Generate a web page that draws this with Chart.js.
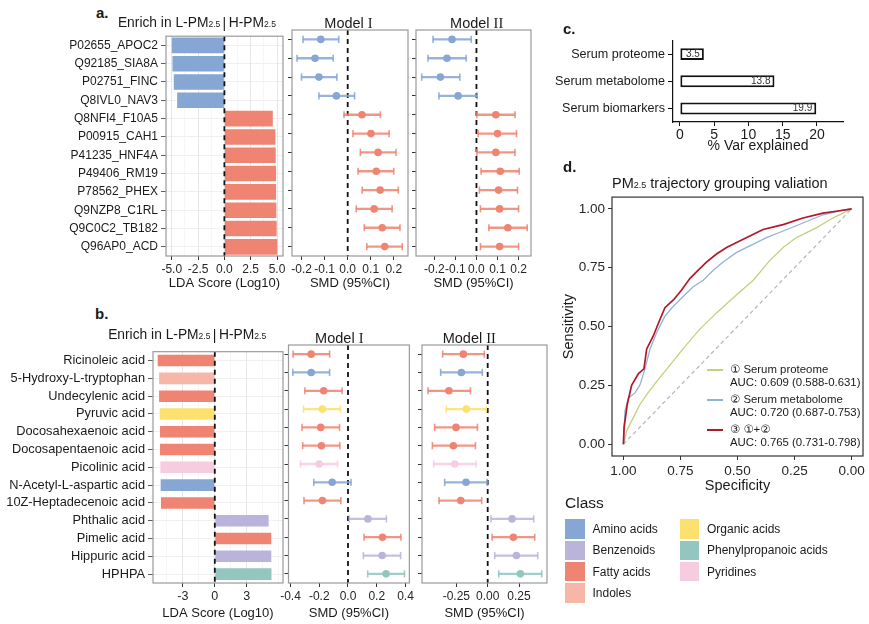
<!DOCTYPE html>
<html>
<head>
<meta charset="utf-8">
<script src="https://cdn.jsdelivr.net/npm/chart.js@4.4.1/dist/chart.umd.min.js"></script>
<style>
  html, body { margin: 0; padding: 0; background: #fff; }
  body { position: relative; width: 869px; height: 624px; overflow: hidden;
         font-family: "Liberation Sans", Arial, "DejaVu Sans", "Noto Sans CJK SC", sans-serif; color: #1a1a1a; }
  canvas { position: absolute; }
  .t { position: absolute; white-space: nowrap; line-height: 1; }
  .s { font-size: 62%; }
  .r { font-family: "Liberation Serif", "Times New Roman", serif; }
</style>
</head>
<body>
<script>
const FONT = '"Liberation Sans", Arial, sans-serif';

// ---------- panel a: proteins ----------
const proteins = ['P02655_APOC2', 'Q92185_SIA8A', 'P02751_FINC', 'Q8IVL0_NAV3', 'Q8NFI4_F10A5', 'P00915_CAH1',
  'P41235_HNF4A', 'P49406_RM19', 'P78562_PHEX', 'Q9NZP8_C1RL', 'Q9C0C2_TB182', 'Q96AP0_ACD'];
const proteinLDA = [-5.0, -4.94, -4.81, -4.49, 4.6, 4.85, 4.88, 4.91, 4.91, 4.94, 4.97, 5.03];
const protM1 = [-0.117, -0.142, -0.125, -0.049, 0.062, 0.101, 0.132, 0.124, 0.141, 0.115, 0.150, 0.161];
const protM1Lo = [-0.194, -0.220, -0.201, -0.125, -0.016, 0.023, 0.055, 0.045, 0.063, 0.037, 0.072, 0.083];
const protM1Hi = [-0.039, -0.063, -0.047, 0.030, 0.142, 0.180, 0.210, 0.200, 0.220, 0.193, 0.227, 0.237];
const protM2 = [-0.116, -0.140, -0.171, -0.087, 0.092, 0.100, 0.092, 0.113, 0.105, 0.110, 0.149, 0.110];
const protM2Lo = [-0.206, -0.230, -0.260, -0.178, 0.002, 0.008, 0.002, 0.022, 0.014, 0.019, 0.059, 0.019];
const protM2Hi = [-0.025, -0.049, -0.079, 0.003, 0.183, 0.190, 0.183, 0.203, 0.195, 0.200, 0.241, 0.200];

// ---------- panel b: metabolites ----------
const metabolites = ['Ricinoleic acid', '5-Hydroxy-L-tryptophan', 'Undecylenic acid', 'Pyruvic acid',
  'Docosahexaenoic acid', 'Docosapentaenoic acid', 'Picolinic acid', 'N-Acetyl-L-aspartic acid',
  '10Z-Heptadecenoic acid', 'Phthalic acid', 'Pimelic acid', 'Hippuric acid', 'HPHPA'];
const metabClass = [2, 3, 2, 4, 2, 2, 6, 0, 2, 1, 2, 1, 5];
const metabForestClass = [2, 0, 2, 4, 2, 2, 6, 0, 2, 1, 2, 1, 5];
const metabLDA = [-5.36, -5.23, -5.23, -5.17, -5.14, -5.14, -5.11, -5.08, -5.05, 5.05, 5.3, 5.3, 5.32];
const metabM1 = [-0.256, -0.256, -0.169, -0.178, -0.190, -0.185, -0.201, -0.110, -0.178, 0.139, 0.240, 0.238, 0.265];
const metabM1Lo = [-0.382, -0.384, -0.300, -0.309, -0.320, -0.315, -0.330, -0.238, -0.306, 0.009, 0.112, 0.107, 0.137];
const metabM1Hi = [-0.128, -0.128, -0.041, -0.053, -0.059, -0.057, -0.073, 0.021, -0.050, 0.267, 0.368, 0.366, 0.393];
const metabM2 = [-0.194, -0.210, -0.309, -0.170, -0.253, -0.274, -0.263, -0.173, -0.215, 0.194, 0.205, 0.229, 0.261];
const metabM2Lo = [-0.359, -0.375, -0.476, -0.330, -0.423, -0.441, -0.431, -0.343, -0.388, 0.027, 0.035, 0.056, 0.088];
const metabM2Hi = [-0.027, -0.043, -0.138, -0.011, -0.082, -0.098, -0.093, -0.005, -0.048, 0.367, 0.375, 0.399, 0.431];

const classNames = ['Amino acids', 'Benzenoids', 'Fatty acids', 'Indoles', 'Organic acids', 'Phenylpropanoic acids', 'Pyridines'];
const classColors = ['#86a6d4', '#bbb4da', '#ef8472', '#f7b7a8', '#fde16e', '#92c6be', '#f6cce0'];

// ---------- panel c ----------
const varSources = ['Serum proteome', 'Serum metabolome', 'Serum biomarkers'];
const varExplained = [3.5, 13.8, 19.9];

// ---------- panel d: ROC ----------
const rocProtSpec = [1.00, 0.985, 0.956, 0.927, 0.898, 0.854, 0.796, 0.738, 0.665, 0.592, 0.504, 0.431, 0.359, 0.30, 0.242, 0.155, 0.082, 0.00];
const rocProtSens = [0.00, 0.058, 0.114, 0.17, 0.211, 0.267, 0.336, 0.406, 0.489, 0.558, 0.635, 0.697, 0.78, 0.836, 0.878, 0.919, 0.961, 1.00];
const rocMetSpec = [1.00, 0.993, 0.978, 0.949, 0.927, 0.905, 0.883, 0.854, 0.818, 0.781, 0.738, 0.694, 0.65, 0.606, 0.563, 0.504, 0.446, 0.373, 0.30, 0.213, 0.125, 0.052, 0.00];
const rocMetSens = [0.00, 0.142, 0.197, 0.218, 0.253, 0.322, 0.406, 0.475, 0.544, 0.586, 0.628, 0.669, 0.697, 0.739, 0.774, 0.815, 0.843, 0.878, 0.906, 0.94, 0.975, 0.992, 1.00];
const rocBothSpec = [1.00, 0.997, 0.983, 0.964, 0.934, 0.91, 0.898, 0.869, 0.84, 0.818, 0.78, 0.745, 0.708, 0.672, 0.636, 0.592, 0.548, 0.504, 0.446, 0.388, 0.30, 0.213, 0.125, 0.052, 0.00];
const rocBothSens = [0.00, 0.072, 0.17, 0.25, 0.30, 0.32, 0.405, 0.46, 0.53, 0.58, 0.614, 0.655, 0.705, 0.74, 0.774, 0.808, 0.836, 0.857, 0.885, 0.9125, 0.933, 0.961, 0.982, 0.992, 1.00];
const diagSpec = [1, 0];
const diagSens = [0, 1];
const rocNames = ['① Serum proteome', '② Serum metabolome', '③ ①+②'];
const rocAUC = ['AUC: 0.609 (0.588-0.631)', 'AUC: 0.720 (0.687-0.753)', 'AUC: 0.765 (0.731-0.798)'];

// tick values / labels
const ldaGridA = [-5, -3.75, -2.5, -1.25, 0, 1.25, 2.5, 3.75, 5];
const ldaLabelsA = ['-5.0', '', '-2.5', '', '0.0', '', '2.5', '', '5.0'];
const ldaGridB = [-4.5, -3, -1.5, 0, 1.5, 3, 4.5, 6];
const ldaLabelsB = ['', '-3', '', '0', '', '3', '', ''];
const smdTicksA1 = [-0.2, -0.1, 0, 0.1, 0.2];
const smdTicksA2 = [-0.2, -0.1, 0, 0.1, 0.2];
const smdTicksB1 = [-0.4, -0.2, 0, 0.2, 0.4];
const smdTicksB2 = [-0.25, 0, 0.25];
const varTicks = [0, 5, 10, 15, 20];
const rocTicks = [0, 0.25, 0.5, 0.75, 1];

// ---------- helpers ----------
function addCanvas(cv) {
  const c = document.createElement('canvas');
  c.width = cv[2] - cv[0];
  c.height = cv[3] - cv[1];
  c.style.left = cv[0] + 'px';
  c.style.top = cv[1] + 'px';
  document.body.appendChild(c);
  return c;
}

function fit(cv, box) {
  return { pt: box[1] - cv[1], pr: cv[2] - box[2], yW: box[0] - cv[0], xH: cv[3] - box[3] };
}

function text(x, y, html, size, align, extra) {
  const d = document.createElement('div');
  d.className = 't';
  d.innerHTML = html;
  d.style.left = x + 'px';
  d.style.top = y + 'px';
  d.style.fontSize = size + 'px';
  const tx = align === 'center' ? '-50%' : align === 'right' ? '-100%' : '0';
  d.style.transform = 'translate(' + tx + ', -50%)';
  if (extra) Object.assign(d.style, extra);
  document.body.appendChild(d);
  return d;
}

function alpha(hex, a) {
  const n = parseInt(hex.slice(1), 16);
  return 'rgba(' + (n >> 16) + ',' + ((n >> 8) & 255) + ',' + (n & 255) + ',' + a + ')';
}

function font(size) { return { family: FONT, size: size }; }

function framePlugin(opts) {
  function zero(chart) {
    const a = chart.chartArea, ctx = chart.ctx;
    const x = chart.scales.x.getPixelForValue(0);
    ctx.save();
    ctx.strokeStyle = '#111';
    ctx.lineWidth = 1.8;
    ctx.setLineDash([5, 4]);
    ctx.beginPath();
    ctx.moveTo(x, a.top);
    ctx.lineTo(x, a.bottom);
    ctx.stroke();
    ctx.restore();
  }
  return {
    id: 'frame',
    beforeDatasetsDraw(chart) { if (opts.zero && !opts.zeroTop) zero(chart); },
    afterDatasetsDraw(chart) { if (opts.zero && opts.zeroTop) zero(chart); },
    afterDraw(chart) {
      if (!opts.color) return;
      const a = chart.chartArea, ctx = chart.ctx;
      ctx.save();
      ctx.strokeStyle = opts.color;
      ctx.lineWidth = opts.width || 1;
      ctx.strokeRect(a.left, a.top, a.right - a.left, a.bottom - a.top);
      ctx.restore();
    }
  };
}

function baseOptions(L) {
  return {
    responsive: false,
    animation: false,
    events: [],
    layout: { padding: { top: L.pt, right: L.pr, left: 0, bottom: 0 }, autoPadding: false },
    plugins: { legend: { display: false }, tooltip: { enabled: false } }
  };
}

function ldaChart(cv, box, names, values, colors, range, gridVals, gridLabels, labelSize, tickSize, barPct) {
  const L = fit(cv, box);
  const major = gridLabels.map(l => l !== '');
  return new Chart(addCanvas(cv), {
    type: 'bar',
    data: { labels: names, datasets: [{ data: values, backgroundColor: colors, borderWidth: 0, barPercentage: barPct, categoryPercentage: 1 }] },
    options: Object.assign(baseOptions(L), {
      indexAxis: 'y',
      scales: {
        y: {
          grid: { offset: false, color: '#ececec', lineWidth: 0.8, tickColor: '#333', tickLength: 5 },
          border: { display: false },
          ticks: { color: '#1a1a1a', font: font(labelSize), padding: 3, autoSkip: false },
          afterFit: s => { s.width = L.yW; }
        },
        x: {
          type: 'linear', min: range[0], max: range[1],
          afterBuildTicks: s => { s.ticks = gridVals.map(v => ({ value: v })); },
          grid: {
            color: c => major[c.index] ? '#e6e6e6' : '#f2f2f2',
            lineWidth: c => major[c.index] ? 1 : 0.7,
            tickColor: c => major[c.index] ? '#333' : 'rgba(0,0,0,0)',
            tickLength: 4
          },
          border: { display: false },
          ticks: { callback: (v, i) => gridLabels[i], color: '#262626', font: font(tickSize), padding: 2, maxRotation: 0, autoSkip: false },
          title: { display: true, text: 'LDA Score (Log10)', color: '#1a1a1a', font: font(13), padding: 0 },
          afterFit: s => { s.height = L.xH; }
        }
      }
    }),
    plugins: [framePlugin({ color: '#9a9a9a', width: 1.2, zero: true, zeroTop: true })]
  });
}

function forestChart(cv, box, names, mid, lo, hi, colors, range, tickVals, digits, tickSize) {
  const L = fit(cv, box);
  const light = colors.map(c => alpha(c, 0.85));
  const common = { type: 'line', indexAxis: 'y', showLine: false };
  return new Chart(addCanvas(cv), {
    type: 'bar',
    data: {
      labels: names,
      datasets: [
        Object.assign({ data: mid, pointRadius: 3.8, pointBackgroundColor: colors, pointBorderWidth: 0 }, common),
        Object.assign({ data: lo, pointStyle: 'line', rotation: 90, pointRadius: 3.6, pointBorderColor: light, pointBorderWidth: 1.6 }, common),
        Object.assign({ data: hi, pointStyle: 'line', rotation: 90, pointRadius: 3.6, pointBorderColor: light, pointBorderWidth: 1.6 }, common),
        { type: 'bar', indexAxis: 'y', data: lo.map((v, i) => [v, hi[i]]), backgroundColor: light, borderWidth: 0, barThickness: 1.6 }
      ]
    },
    options: Object.assign(baseOptions(L), {
      indexAxis: 'y',
      scales: {
        y: {
          grid: { offset: false, drawOnChartArea: false, tickColor: '#333', tickLength: 4 },
          border: { display: false },
          ticks: { display: false, autoSkip: false },
          afterFit: s => { s.width = L.yW; }
        },
        x: {
          type: 'linear', min: range[0], max: range[1],
          afterBuildTicks: s => { s.ticks = tickVals.map(v => ({ value: v })); },
          grid: { drawOnChartArea: false, tickColor: '#333', tickLength: 4 },
          border: { display: false },
          ticks: { callback: (v, i) => tickVals[i].toFixed(digits), color: '#262626', font: font(tickSize), padding: 2, maxRotation: 0, autoSkip: false },
          title: { display: true, text: 'SMD (95%CI)', color: '#1a1a1a', font: font(13), padding: 0 },
          afterFit: s => { s.height = L.xH; }
        }
      }
    }),
    plugins: [framePlugin({ color: '#9a9a9a', width: 1.2, zero: true, zeroTop: false })]
  });
}

// ---------- panel a ----------
const protColors = proteinLDA.map(v => v < 0 ? classColors[0] : classColors[2]);
ldaChart([0, 26, 290, 291], [166, 30, 283, 256], proteins, proteinLDA, protColors, [-5.55, 5.57], ldaGridA, ldaLabelsA, 12, 12, 0.85);
forestChart([282, 26, 413, 291], [292, 30, 408, 256], proteins, protM1, protM1Lo, protM1Hi, protColors, [-0.242, 0.262], smdTicksA1, 1, 12);
forestChart([406, 26, 537, 291], [416, 30, 531, 256], proteins, protM2, protM2Lo, protM2Hi, protColors, [-0.287, 0.259], smdTicksA2, 1, 12);

// ---------- panel b ----------
const metabColors = metabClass.map(c => classColors[c]);
const metabForestColors = metabForestClass.map(c => classColors[c]);
ldaChart([0, 341, 290, 621], [153, 345, 283, 583], metabolites, metabLDA, metabColors, [-5.8, 6.4], ldaGridB, ldaLabelsB, 12.8, 12.5, 0.65);
forestChart([278, 341, 416, 621], [288, 345, 410, 583], metabolites, metabM1, metabM1Lo, metabM1Hi, metabForestColors, [-0.414, 0.427], smdTicksB1, 1, 12);
forestChart([412, 341, 553, 621], [422, 345, 547, 583], metabolites, metabM2, metabM2Lo, metabM2Hi, metabForestColors, [-0.524, 0.473], smdTicksB2, 2, 12);

// ---------- panel c ----------
(function () {
  const cv = [545, 30, 855, 155], box = [673, 38, 843, 122];
  const L = fit(cv, box);
  const valueLabels = {
    id: 'valueLabels',
    afterDatasetsDraw(chart) {
      const ctx = chart.ctx;
      ctx.save();
      ctx.font = '10px ' + FONT;
      ctx.fillStyle = '#333';
      ctx.textAlign = 'right';
      ctx.textBaseline = 'middle';
      chart.getDatasetMeta(0).data.forEach((bar, i) => {
        ctx.fillText(varExplained[i].toFixed(1), bar.x - 4, bar.y);
      });
      ctx.restore();
    }
  };
  new Chart(addCanvas(cv), {
    type: 'bar',
    data: { labels: varSources, datasets: [{ data: varExplained, backgroundColor: '#fff', borderColor: '#111', borderWidth: 2, borderSkipped: false, barPercentage: 0.44, categoryPercentage: 1 }] },
    options: Object.assign(baseOptions(L), {
      indexAxis: 'y',
      scales: {
        y: {
          grid: { offset: false, drawOnChartArea: false, tickColor: '#111', tickLength: 5 },
          border: { display: true, color: '#111', width: 1.2 },
          ticks: { color: '#1a1a1a', font: font(12.6), padding: 3 },
          afterFit: s => { s.width = L.yW; }
        },
        x: {
          type: 'linear', min: -1, max: 23.8,
          afterBuildTicks: s => { s.ticks = varTicks.map(v => ({ value: v })); },
          grid: { drawOnChartArea: false, tickColor: '#111', tickLength: 4 },
          border: { display: true, color: '#111', width: 1.2 },
          ticks: { color: '#1a1a1a', font: font(14), padding: 1, maxRotation: 0 },
          title: { display: true, text: '% Var explained', color: '#1a1a1a', font: font(14), padding: 0 },
          afterFit: s => { s.height = L.xH; }
        }
      }
    }),
    plugins: [valueLabels]
  });
})();

// ---------- panel d ----------
(function () {
  const cv = [560, 186, 868, 495], box = [612, 192, 863, 456];
  const L = fit(cv, box);
  const pts = (xs, ys) => xs.map((x, i) => ({ x: x, y: ys[i] }));
  const axis = (title, reverse, isX) => ({
    type: 'linear', min: -0.05, max: 1.05, reverse: reverse,
    afterBuildTicks: s => { s.ticks = rocTicks.map(v => ({ value: v })); },
    grid: { drawOnChartArea: false, tickColor: '#333', tickLength: 4 },
    border: { display: false },
    ticks: { callback: v => v.toFixed(2), color: '#262626', font: font(13.5), padding: 3, maxRotation: 0, autoSkip: false },
    title: { display: true, text: title, color: '#1a1a1a', font: font(14.5), padding: 0 },
    afterFit: isX ? (s => { s.height = L.xH; }) : (s => { s.width = L.yW; })
  });
  new Chart(addCanvas(cv), {
    type: 'scatter',
    data: {
      datasets: [
        { data: pts(rocBothSpec, rocBothSens), borderColor: '#b2182b', borderWidth: 1.7 },
        { data: pts(rocMetSpec, rocMetSens), borderColor: '#92b3d8', borderWidth: 1.3 },
        { data: pts(rocProtSpec, rocProtSens), borderColor: '#c3d17c', borderWidth: 1.3 },
        { data: pts(diagSpec, diagSens), borderColor: '#b5b5b5', borderWidth: 1.2, borderDash: [4, 3] }
      ].map(d => Object.assign(d, { showLine: true, pointRadius: 0, fill: false }))
    },
    options: Object.assign(baseOptions(L), {
      scales: { x: axis('Specificity', true, true), y: axis('Sensitivity', false, false) }
    }),
    plugins: [framePlugin({ color: '#333', width: 1.2 })]
  });
})();

// ---------- text ----------
const bold = { fontWeight: 'bold' };
text(96, 12, 'a.', 15, 'left', bold);
text(95, 313, 'b.', 15, 'left', bold);
text(563, 28, 'c.', 15, 'left', bold);
text(563, 166, 'd.', 15, 'left', bold);

function enrichHeader(x, y) {
  text(x - 4, y, 'Enrich in L-PM<span class="s">2.5</span>', 13.8, 'right');
  text(x, y, '|', 14, 'center');
  text(x + 4.5, y, 'H-PM<span class="s">2.5</span>', 13.8, 'left');
}
enrichHeader(224.3, 22.5);
enrichHeader(214.5, 335);

text(348.5, 23, 'Model <span class="r">I</span>', 14.5, 'center');
text(476.7, 23, 'Model <span class="r">II</span>', 14.5, 'center');
text(339.3, 337.7, 'Model <span class="r">I</span>', 14.5, 'center');
text(469.3, 337.7, 'Model <span class="r">II</span>', 14.5, 'center');

text(612, 183.3, 'PM<span class="s">2.5</span> trajectory grouping valiation', 14.5, 'left');

// ROC legend
const rocLegendColors = ['#c3d17c', '#92b3d8', '#b2182b'];
rocNames.forEach((name, i) => {
  const y = 370 + i * 30;
  const ln = document.createElement('div');
  Object.assign(ln.style, { position: 'absolute', left: '706.7px', top: (y - 0.8) + 'px', width: '16.6px', height: '1.6px', background: rocLegendColors[i] });
  document.body.appendChild(ln);
  text(730, y, name, 11.4, 'left');
  text(730, y + 12.7, rocAUC[i], 11.4, 'left');
});

// Class legend
text(565, 503, 'Class', 15.5, 'left');
classNames.forEach((name, i) => {
  const col = i < 4 ? 0 : 1, row = i < 4 ? i : i - 4;
  const x = col === 0 ? 565 : 679.5;
  const y = 529.2 + row * 21.2;
  const sq = document.createElement('div');
  Object.assign(sq.style, { position: 'absolute', left: x + 'px', top: (y - 9.8) + 'px', width: '19.6px', height: '19.6px', background: classColors[i] });
  document.body.appendChild(sq);
  text(x + 27.5, y, name, 12, 'left');
});
</script>
</body>
</html>
